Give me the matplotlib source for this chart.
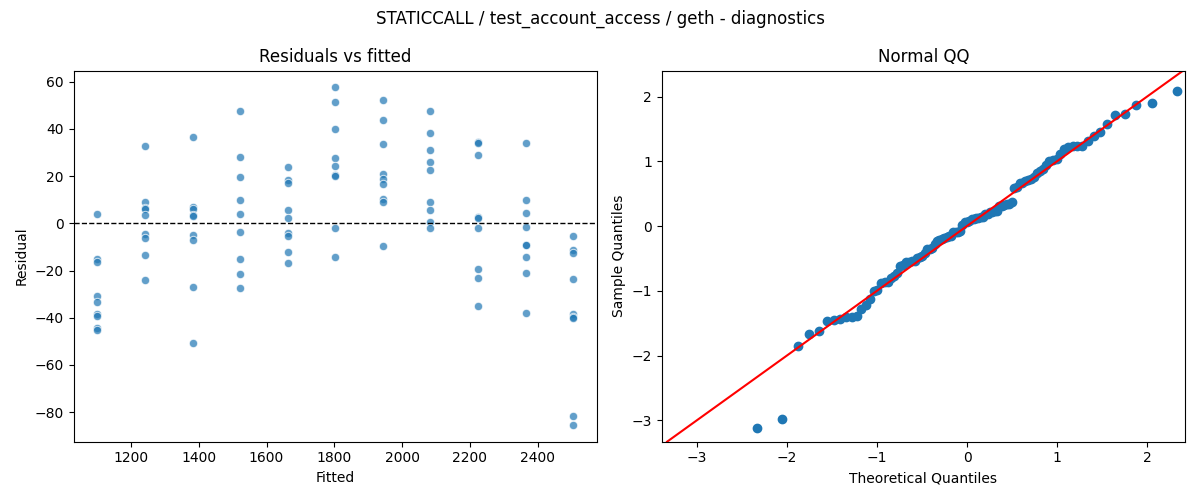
import numpy as np
import matplotlib
matplotlib.use("Agg")
import matplotlib.pyplot as plt
from statistics import NormalDist

# fitted value levels (one per group)
fitted_levels = [1101, 1242, 1382, 1522, 1662, 1803, 1943, 2083, 2224, 2364, 2504]

# residuals per fitted level
residual_groups = [
    [3.9, -15.1, -16.5, -30.9, -33.4, -38.3, -39.2, -44.5, -45.4],
    [33.0, 8.9, 6.5, 6.1, 3.4, -4.4, -6.3, -13.4, -24.1],
    [36.4, 6.8, 6.3, 3.5, 3.1, -4.9, -7.2, -27.1, -50.7],
    [47.8, 28.3, 19.5, 9.7, 3.8, -3.8, -15.2, -21.6, -27.5],
    [23.8, 18.3, 16.9, 5.5, 2.1, -4.1, -5.4, -12.3, -16.9],
    [57.6, 51.6, 40.2, 27.9, 24.4, 20.3, 19.9, -2.1, -14.4],
    [52.4, 43.6, 33.8, 21.1, 18.7, 16.5, 10.4, 9.2, -9.6],
    [47.5, 38.5, 30.9, 26.2, 22.8, 8.9, 5.5, 0.6, -2.1],
    [34.4, 34.2, 28.8, 2.5, 2.1, -2.1, -19.5, -23.3, -35.1],
    [34.0, 9.7, 4.2, -1.7, -9.0, -9.3, -14.4, -21.1, -38.1],
    [-5.5, -11.4, -12.7, -23.7, -38.3, -39.5, -40.0, -81.6, -85.4],
]

fitted = np.concatenate([[f] * len(g) for f, g in zip(fitted_levels, residual_groups)])
resid = np.concatenate([np.array(g, dtype=float) for g in residual_groups])

fig, (ax1, ax2) = plt.subplots(1, 2, figsize=(12, 5), dpi=100)

# Residuals vs fitted
ax1.scatter(fitted, resid, s=36, color="#1f77b4", alpha=0.7,
            edgecolors="white", linewidths=0.75)
ax1.axhline(0, color="black", linestyle="--", linewidth=1)
ax1.set_title("Residuals vs fitted")
ax1.set_xlabel("Fitted")
ax1.set_ylabel("Residual")

# Normal QQ (standardized residuals vs theoretical normal quantiles)
n = len(resid)
sample_q = np.sort((resid - resid.mean()) / resid.std())
nd = NormalDist()
theo_q = np.array([nd.inv_cdf(i / (n + 1)) for i in range(1, n + 1)])
ax2.plot(theo_q, sample_q, marker="o", linestyle="none", color="#1f77b4",
         markersize=6)
ax2.axline((0, 0), slope=1, color="red")
ax2.set_xlim(-3.39, 2.42)
ax2.set_ylim(-3.33, 2.40)
ax2.set_title("Normal QQ")
ax2.set_xlabel("Theoretical Quantiles")
ax2.set_ylabel("Sample Quantiles")

fig.suptitle("STATICCALL / test_account_access / geth - diagnostics")
fig.tight_layout()
fig.savefig("out.png")
